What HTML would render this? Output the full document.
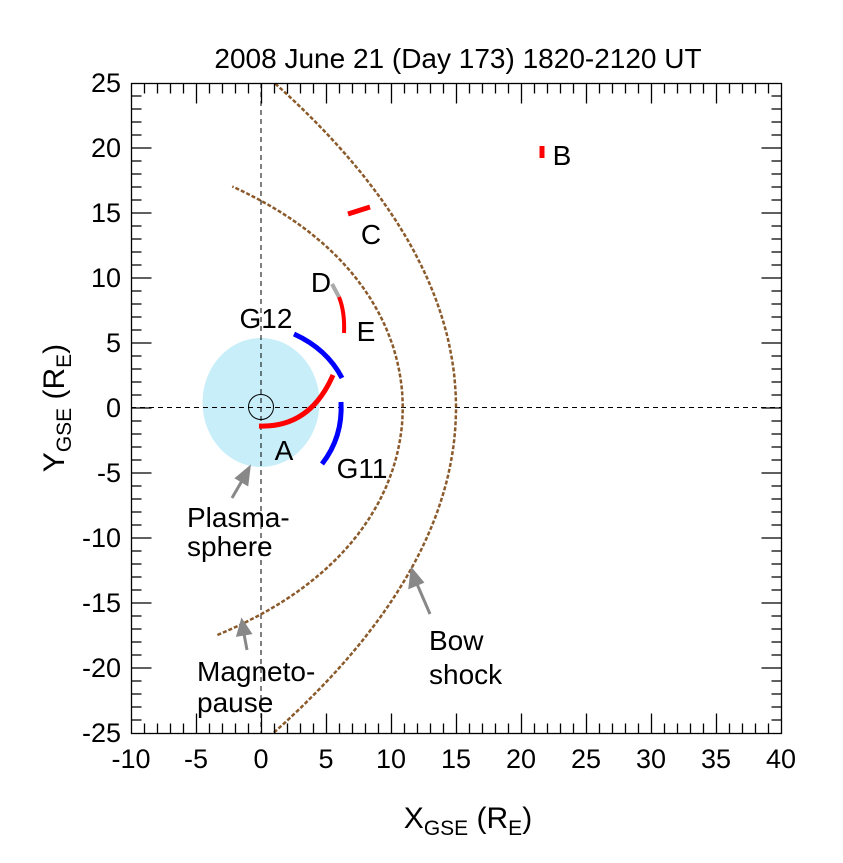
<!DOCTYPE html>
<html><head><meta charset="utf-8"><style>
body{margin:0;background:#fff}
svg text{font-family:"Liberation Sans",sans-serif;fill:#000}
</style></head><body>
<svg id="s" width="843" height="858" xmlns="http://www.w3.org/2000/svg">
<rect width="843" height="858" fill="#fff"/>
<ellipse cx="261" cy="402.5" rx="58.5" ry="64.5" fill="#c8eef9"/>
<line x1="261" y1="83" x2="261" y2="733" stroke="#000" stroke-width="1" stroke-dasharray="5,4"/>
<line x1="131" y1="407.5" x2="781" y2="407.5" stroke="#000" stroke-width="1" stroke-dasharray="5,4"/>
<circle cx="261" cy="407" r="12.5" fill="none" stroke="#000" stroke-width="1"/>
<path id="bs" fill="none" stroke="#8b5a2b" stroke-width="2.5" stroke-dasharray="4,2"/>
<path id="mp" fill="none" stroke="#8b5a2b" stroke-width="2.5" stroke-dasharray="4,2"/>
<path d="M259,426 Q310,428 333,375" fill="none" stroke="#f00" stroke-width="5"/>
<path d="M294,334 Q327,349 342,378" fill="none" stroke="#00f" stroke-width="5"/>
<path d="M341,402 Q343,437 322,464" fill="none" stroke="#00f" stroke-width="5"/>
<path d="M332,284 L339,297" fill="none" stroke="#aaa" stroke-width="4"/>
<path d="M339,297 Q345,312 344,333" fill="none" stroke="#f00" stroke-width="4"/>
<path d="M348,214 L370,207" fill="none" stroke="#f00" stroke-width="5"/>
<path d="M542,146 L542,158" fill="none" stroke="#f00" stroke-width="5"/>
<g stroke="#888" stroke-width="3" fill="#888">
<line x1="232" y1="498" x2="243" y2="479"/><polygon points="249,468 237,478 247,484"/>
<line x1="247" y1="650" x2="244" y2="634"/><polygon points="242,621 238,635 250,633"/>
<line x1="430" y1="614" x2="417" y2="584"/><polygon points="412,570 410,587 422,582"/>
</g>
<path id="ticks" fill="none" stroke="#000" stroke-width="1.3"/>
<rect x="131.5" y="83.5" width="650" height="650" fill="none" stroke="#000" stroke-width="1.3"/>
<text x="458" y="68" font-size="28" text-anchor="middle">2008 June 21 (Day 173) 1820-2120 UT</text>
<g font-size="28" text-anchor="middle">
<text x="321" y="292">D</text><text x="366" y="341">E</text>
<text x="266" y="328">G12</text><text x="284" y="460">A</text>
<text x="362" y="478">G11</text><text x="371" y="244">C</text><text x="562" y="165">B</text>
<text x="187" y="527" text-anchor="start">Plasma-</text><text x="187" y="556" text-anchor="start">sphere</text>
<text x="197" y="681" text-anchor="start">Magneto-</text><text x="197" y="712" text-anchor="start">pause</text>
<text x="429" y="650" text-anchor="start">Bow</text><text x="429" y="684" text-anchor="start">shock</text>
</g>
<g id="lab" font-size="27"></g>
<text x="468" y="828" font-size="30" text-anchor="middle">X<tspan font-size="21" dy="7">GSE</tspan><tspan dy="-7"> (R</tspan><tspan font-size="21" dy="7">E</tspan><tspan dy="-7">)</tspan></text>
<text transform="translate(64,408) rotate(-90)" font-size="30" text-anchor="middle">Y<tspan font-size="21" dy="7">GSE</tspan><tspan dy="-7"> (R</tspan><tspan font-size="21" dy="7">E</tspan><tspan dy="-7">)</tspan></text>
</svg>
<script>
var X=function(x){return 261+13*x},Y=function(y){return 407.5-13*y};
var d="";
for(var y=-25;y<=25.01;y+=0.25){var x=15-0.0224*y*y;d+=(d?"L":"M")+X(x).toFixed(1)+","+Y(y).toFixed(1);}
document.getElementById("bs").setAttribute("d",d);
d="";
for(var t=-1.76;t<=1.72;t+=0.02){var r=10.9*Math.pow(2/(1+Math.cos(t)),0.545);d+=(d?"L":"M")+X(r*Math.cos(t)).toFixed(1)+","+Y(r*Math.sin(t)).toFixed(1);}
document.getElementById("mp").setAttribute("d",d);
d="";
for(var i=-10;i<=40;i++){var px=X(i)+0.5,L=(i%5==0)?20:10;if(i>-10&&i<40)d+="M"+px+",733.5V"+(733.5-L)+"M"+px+",83.5V"+(83.5+L);}
for(var j=-25;j<=25;j++){var py=Y(j)+0.5,L=(j%5==0)?20:10;if(j>-25&&j<25)d+="M131.5,"+py+"H"+(131.5+L)+"M781.5,"+py+"H"+(781.5-L);}
document.getElementById("ticks").setAttribute("d",d);
var g=document.getElementById("lab"),h="";
for(var i=-10;i<=40;i+=5)h+='<text x="'+X(i)+'" y="768" text-anchor="middle">'+i+'</text>';
for(var j=-25;j<=25;j+=5)h+='<text x="121" y="'+(Y(j)+9.5)+'" text-anchor="end">'+j+'</text>';
g.innerHTML=h;
</script>
</body></html>
